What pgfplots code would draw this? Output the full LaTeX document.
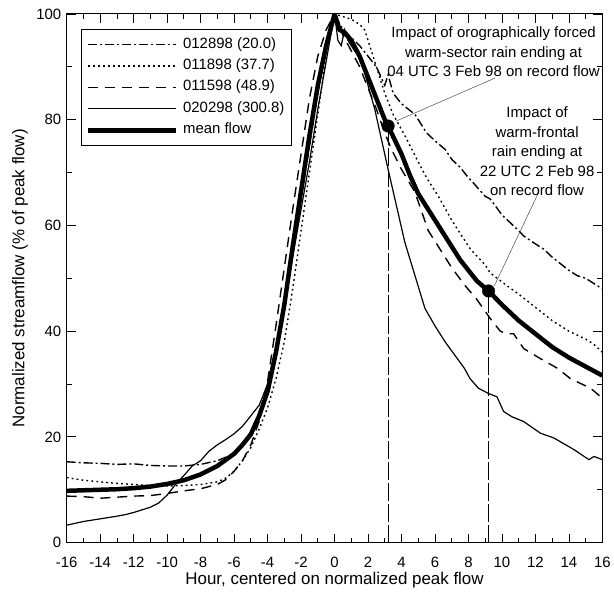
\documentclass[border=0pt]{standalone}
\usepackage{fontspec}
\setmainfont{Liberation Sans}
\usepackage{pgfplots}
\pgfplotsset{compat=1.18}
\newcommand{\lf}{\fontsize{15}{17}\selectfont}
\begin{document}
\begin{tikzpicture}
\begin{axis}[
 name=ax,
 scale only axis, width=538pt, height=531pt,
 xmin=-16, xmax=16, ymin=0, ymax=100,
 xtick={-16,-14,...,16}, minor x tick num=1,
 ytick={0,20,...,100}, minor y tick num=1,
 tick align=inside, major tick length=9pt, minor tick length=5pt,
 tick style={black, line width=0.8pt},
 axis line style={line width=1pt},
 ticklabel style={font=\fontsize{15}{17}\selectfont},
 xticklabel style={yshift=-11pt},
 yticklabel style={xshift=-2pt},
 /pgf/number format/assume math mode=true,
 xlabel={Hour, centered on normalized peak flow},
 ylabel={Normalized streamflow (\% of peak flow)},
 label style={font=\fontsize{17}{20}\selectfont},
 xlabel style={at={(axis description cs:0.5,-0.0716)}, anchor=center},
 ylabel style={at={(axis description cs:-0.0874,0.5)}, anchor=center},
 legend style={at={(0.026,0.9718)}, anchor=north west, draw=black, line width=0.8pt,
   inner xsep=5pt, inner ysep=6pt, row sep=2.5pt, column sep=3pt,
   nodes={inner sep=2pt, text height=11pt, text depth=4pt}},
 legend cell align=left,
 legend image code/.code={\draw[#1] (0pt,0pt) -- (88pt,0pt);},
]
% 012898 dash-dot
\addplot[black, line width=1.4pt, dash pattern=on 9pt off 3pt on 2pt off 3pt] coordinates {
(-16,15.3) (-15,15.1) (-14,15.0) (-13,14.8) (-12,14.9) (-11,14.6) (-10,14.5) (-9,14.5) (-8,14.8) (-7,15.5) (-6,16.8) (-5.5,18.5) (-5,21) (-4.5,24.5) (-4,29) (-3.5,36) (-3,45) (-2.5,55) (-2,65) (-1.5,75) (-1,85) (-0.5,93.5) (0,100) (0.5,97) (1,95.5) (1.5,94) (2,92) (2.5,90) (3,86.5) (3.2,88.5) (3.5,85) (4,83) (4.8,81) (5.5,77.5) (6,76) (6.6,74.4) (7,72.5) (7.5,71) (8,69) (8.3,68) (9,65.5) (9.3,65) (10,62) (10.5,60.5) (11,59) (11.3,58) (12,56.5) (12.5,55.5) (13,54) (14,51.5) (14.5,50.5) (15,50) (15.5,49) (16,48)};
\addlegendentry{\lf 012898 (20.0)}
% 011898 dotted
\addplot[black, line width=1.4pt, dash pattern=on 1.8pt off 3.2pt] coordinates {
(-16,12.3) (-15,11.8) (-14,11.5) (-13,11.2) (-12,11) (-11,10.8) (-10,10.7) (-9,10.8) (-8,11) (-7,11.5) (-6.5,12.2) (-6,13.5) (-5.5,15.5) (-5,18) (-4.5,21.5) (-4,25.5) (-3.5,31) (-3,38) (-2.5,48) (-2,59) (-1.5,70) (-1,81) (-0.5,92) (0,100) (0.5,99.5) (1,99) (1.5,98) (1.8,97) (2.2,93) (2.6,89) (3,85) (3.5,81) (4.2,77) (5,72) (5.5,69) (6.2,65.5) (7,61) (7.5,58.5) (8.1,55.6) (9,52.5) (9.3,51) (10.3,48.6) (11,47) (12,44.5) (13,42) (14,40) (15,38.5) (15.5,37.5) (16,36)};
\addlegendentry{\lf 011898 (37.7)}
% 011598 dashed
\addplot[black, line width=1.4pt, dash pattern=on 10pt off 7pt] coordinates {
(-16,8.8) (-15,8.7) (-14,8.4) (-13,8.6) (-12,8.8) (-11,8.9) (-10,9.3) (-9,9.8) (-8,10.2) (-7,11) (-6.5,11.9) (-6,13.5) (-5.5,15.5) (-5,18.5) (-4.5,23) (-4,30.5) (-3.5,41) (-3,52) (-2.5,63) (-2,73.5) (-1.5,84) (-1,92) (-0.5,97) (0,100) (0.5,96) (1,93) (1.5,90) (2,86) (2.5,82) (3,77.5) (3.4,74.4) (4,70.6) (4.8,66.3) (5.6,59) (6.4,55) (7,52) (7.8,48.6) (8.5,46) (9.3,42.4) (9.9,40) (10.3,39.5) (10.7,39.5) (11.3,36.7) (12.3,34.8) (13.3,33) (14.1,31) (15.3,29.2) (16,27.3)};
\addlegendentry{\lf 011598 (48.9)}
% 020298 thin solid
\addplot[black, line width=1.2pt] coordinates {
(-16,3.3) (-15,4) (-14,4.5) (-13,5) (-12.5,5.3) (-12,5.7) (-11,6.7) (-10.5,7.5) (-10,9) (-9.5,11) (-9,12.7) (-8.5,14.5) (-8,15.5) (-7.5,17.3) (-7,18.5) (-6.5,19.5) (-6,20.6) (-5.5,22) (-5,24) (-4.5,26) (-4,30) (-3.5,37) (-3,45) (-2.5,54) (-2,63) (-1.5,72) (-1,82) (-0.5,91) (0,100) (0.2,95) (0.4,94) (0.6,97) (0.8,95) (1.2,93) (1.6,91.5) (2,86.5) (2.4,82) (3.2,70.6) (4.2,56.8) (5.4,44.3) (6,41) (6.6,38) (7.75,33) (8.1,31) (8.6,29.2) (9.2,28.2) (9.7,27.6) (10.1,24.8) (10.6,23.8) (11.3,22.9) (12.3,20.7) (13.1,19.8) (14.3,17.6) (15.2,15.7) (15.5,16.3) (16,15.7)};
\addlegendentry{\lf 020298 (300.8)}
% mean flow
\addplot[black, line width=4.5pt] coordinates {
(-16,9.8) (-15,9.9) (-14,10) (-13,10.1) (-12,10.3) (-11,10.6) (-10,11.1) (-9,11.8) (-8,12.9) (-7,14.5) (-6,16.8) (-5.5,18.5) (-5,20.5) (-4.5,24) (-4,28.6) (-3.5,36) (-3,45) (-2.5,56) (-2,66.5) (-1.5,77) (-1,86.5) (-0.5,94) (0,100) (0.3,97) (0.6,96.5) (1,95) (1.5,92) (2,88) (2.5,84) (3,80) (3.2,78.8) (4,73.5) (4.5,69.5) (5,66) (5.6,63) (6,61) (6.6,58) (7,56) (7.5,53.5) (8,51.5) (8.5,49.5) (9.2,47.6) (10,45) (11,42) (12,39.5) (13,37) (14,35) (15,33.3) (16,31.6)};
\addlegendentry{\lf mean flow}
% vertical reference lines
\addplot[forget plot, black, line width=0.8pt, dash pattern=on 18pt off 3pt] coordinates {(3.2,0) (3.2,78.8)};
\addplot[forget plot, black, line width=0.8pt, dash pattern=on 18pt off 3pt] coordinates {(9.2,0) (9.2,47.6)};
% leader lines
\addplot[forget plot, black!70, line width=0.5pt] coordinates {(9.6,87.9) (3.66,79.7)};
\addplot[forget plot, black!70, line width=0.5pt] coordinates {(12.2,66.3) (9.55,48.6)};
% markers
\addplot[forget plot, only marks, mark=*, mark size=6.3pt, black] coordinates {(3.2,78.8) (9.2,47.6)};
\node[align=center, font=\fontsize{15}{19.5}\selectfont] at (axis cs:9.5,92.8)
 {Impact of orographically forced\\warm-sector rain ending at\\04 UTC 3 Feb 98 on record flow};
\node[align=center, font=\fontsize{15}{19.5}\selectfont] at (axis cs:12.1,74)
 {Impact of\\warm-frontal\\rain ending at\\22 UTC 2 Feb 98\\on record flow};
\end{axis}
\path ([xshift=-67pt,yshift=-49pt]ax.south west) rectangle ([xshift=9pt,yshift=14pt]ax.north east);
\end{tikzpicture}
\end{document}
